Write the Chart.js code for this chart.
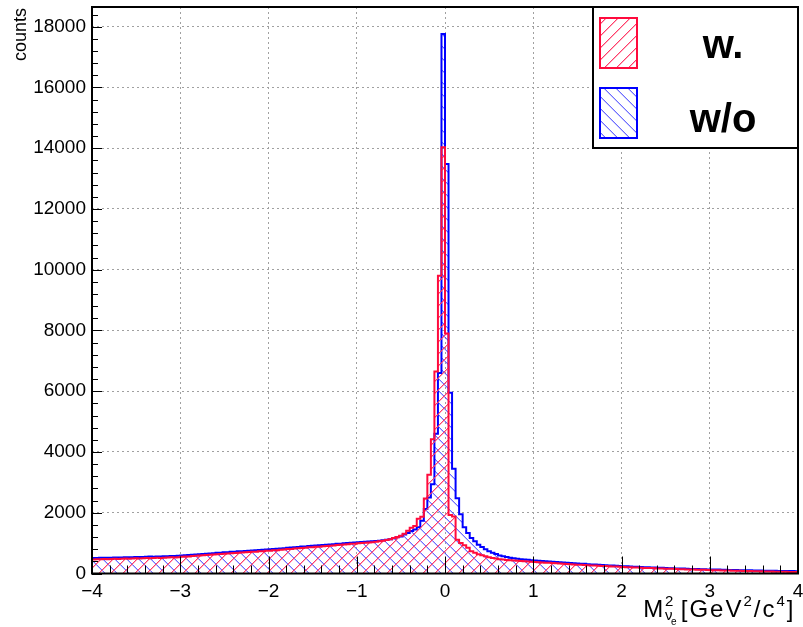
<!DOCTYPE html>
<html>
<head>
<meta charset="utf-8">
<title>Missing mass squared</title>
<script src="https://cdn.jsdelivr.net/npm/chart.js@4.4.1/dist/chart.umd.min.js"></script>
<style>
  body { margin: 0; background: #fff; }
  canvas { display: block; }
</style>
</head>
<body>
<canvas id="massChart" width="803" height="627"></canvas>
<script>
// Histogram binning (200 bins of 0.04 from -4 to 4)
const binLow = -4;
const binHigh = 4;
const binWidth = 0.04;

const labelWith = 'w.';
const labelWithout = 'w/o';

// counts per bin
const countsWith = [
  462, 470, 466, 474, 471, 478, 482, 476, 485, 490, 487, 495, 498, 494, 503, 507, 505, 512, 516, 513, 522, 526, 531, 528, 538,
  548, 557, 563, 575, 581, 590, 598, 607, 619, 626, 636, 641, 653, 658, 669, 674, 684, 689, 699, 705, 714, 720, 731, 735, 745,
  752, 764, 769, 783, 789, 803, 809, 822, 828, 842, 848, 861, 867, 878, 884, 898, 904, 917, 923, 937, 943, 957, 963, 977, 983,
  997, 1002, 1014, 1018, 1032, 1042, 1058, 1080, 1100, 1130, 1165, 1200, 1245, 1310, 1410, 1510, 1560, 1800, 1870, 2470, 3250, 4420, 6650, 9800, 14030,
  7900, 1930, 1880, 1110, 1000, 930, 850, 730, 680, 630, 600, 570, 535, 510, 490, 472, 458, 446, 436, 426, 418, 410, 402, 394, 386,
  378, 371, 366, 357, 350, 345, 334, 327, 322, 313, 305, 300, 290, 284, 280, 270, 264, 261, 252, 247, 243, 236, 230, 227, 219,
  214, 208, 206, 199, 194, 191, 185, 180, 178, 171, 167, 165, 159, 155, 153, 147, 143, 141, 135, 132, 130, 124, 121, 120, 114,
  111, 108, 106, 101, 98, 97, 92, 89, 88, 83, 80, 79, 75, 73, 72, 68, 66, 64, 61, 59, 58, 55, 52, 51, 48
];

const countsWithout = [
  508, 512, 515, 517, 521, 519, 527, 530, 528, 536, 539, 535, 544, 547, 543, 552, 556, 553, 561, 560, 568, 571, 575, 573, 584,
  594, 600, 610, 617, 627, 633, 645, 650, 662, 668, 680, 686, 697, 702, 713, 718, 729, 734, 744, 749, 760, 764, 775, 780, 790,
  797, 808, 814, 827, 834, 846, 853, 865, 872, 885, 891, 904, 910, 921, 928, 940, 946, 958, 964, 976, 982, 994, 1000, 1012, 1018,
  1030, 1036, 1045, 1050, 1062, 1072, 1082, 1095, 1110, 1130, 1160, 1190, 1220, 1280, 1330, 1400, 1450, 1520, 1740, 2120, 2500, 2940, 4600, 6600, 17760,
  13480, 5950, 3450, 2480, 1950, 1520, 1330, 1170, 1060, 950, 870, 800, 730, 680, 640, 595, 565, 540, 515, 500, 485, 472, 460, 450, 440,
  430, 420, 412, 402, 395, 387, 378, 370, 364, 355, 346, 340, 330, 322, 318, 308, 300, 296, 286, 280, 274, 266, 260, 256, 248,
  242, 236, 232, 225, 220, 216, 209, 204, 201, 194, 189, 187, 180, 176, 174, 168, 164, 162, 156, 152, 150, 145, 142, 140, 135,
  132, 129, 128, 123, 120, 119, 115, 112, 111, 108, 105, 104, 100, 98, 97, 94, 92, 91, 88, 86, 85, 83, 81, 80, 78
];

const xTickValues = [-4, -3, -2, -1, 0, 1, 2, 3, 4];
const yTickValues = [0, 2000, 4000, 6000, 8000, 10000, 12000, 14000, 16000, 18000];
const yMax = 18650;

const redLine = 'rgb(255, 10, 60)';
const blueLine = 'rgb(0, 0, 255)';

const fontFamily = "'Liberation Sans', Arial, Helvetica, sans-serif";
Chart.defaults.font.family = fontFamily;

// pixel hatch tile, "/" when slash is true, "\" otherwise
function hatch(strong, soft, slash) {
    const s = 12;
    const c = document.createElement('canvas');
    c.width = s;
    c.height = s;
    const g = c.getContext('2d');
    for (let i = 0; i < s; i++) {
        const j = slash ? s - 1 - i : i;
        g.fillStyle = strong;
        g.fillRect(i, j, 1, 1);
        g.fillStyle = soft;
        g.fillRect(i, (j + 1) % s, 1, 1);
    }
    return g.createPattern(c, 'repeat');
}

// histogram outline: one point per bin low edge, closed down to zero at both ends
function stepPoints(counts) {
    const pts = [{ x: binLow, y: 0 }];
    counts.forEach((c, i) => pts.push({ x: binLow + i * binWidth, y: c }));
    pts.push({ x: binHigh, y: counts[counts.length - 1] });
    pts.push({ x: binHigh, y: 0 });
    return pts;
}

const fillWith = hatch('rgba(255, 40, 90, 0.9)', 'rgba(255, 110, 140, 0.55)', true);
const fillWithout = hatch('rgba(60, 60, 255, 0.75)', 'rgba(120, 120, 255, 0.45)', false);

function minus(v) {
    return v < 0 ? '\u2212' + Math.abs(v) : String(v);
}

// ROOT-like frame, inward ticks, x labels, titles and legend
const rootFrame = {
    id: 'rootFrame',
    afterDraw(chart) {
        const { ctx, chartArea: a, scales: { x, y } } = chart;
        ctx.save();

        ctx.strokeStyle = '#000';
        ctx.lineWidth = 1;
        ctx.beginPath();
        for (let k = 0; k <= 40; k++) {
            const px = Math.round(x.getPixelForValue(binLow + k * 0.2)) + 0.5;
            const len = k % 5 === 0 ? 17 : 8;
            ctx.moveTo(px, a.bottom);
            ctx.lineTo(px, a.bottom - len);
        }
        for (let k = 0; k * 400 <= yMax; k++) {
            const py = Math.round(y.getPixelForValue(k * 400)) + 0.5;
            const len = k % 5 === 0 ? 10 : 6;
            ctx.moveTo(a.left, py);
            ctx.lineTo(a.left + len, py);
        }
        ctx.stroke();

        ctx.lineWidth = 2;
        ctx.strokeRect(a.left, a.top, a.right - a.left, a.bottom - a.top);

        // x tick labels
        ctx.fillStyle = '#000';
        ctx.font = '19px ' + fontFamily;
        ctx.textAlign = 'center';
        ctx.textBaseline = 'middle';
        xTickValues.forEach(v => {
            ctx.fillText(minus(v), x.getPixelForValue(v), a.bottom + 18);
        });

        // y title
        ctx.save();
        ctx.font = '18px ' + fontFamily;
        ctx.translate(26, 8);
        ctx.rotate(-Math.PI / 2);
        ctx.textAlign = 'right';
        ctx.textBaseline = 'alphabetic';
        ctx.fillText('counts', 0, 0);
        ctx.restore();

        // x title: M^2_{nu_e} [GeV^2/c^4], right aligned to the frame
        const big = '24px ' + fontFamily;
        const small = '15px ' + fontFamily;
        const tiny = '10px ' + fontFamily;
        const base = 617;
        ctx.textAlign = 'left';
        ctx.textBaseline = 'alphabetic';
        ctx.letterSpacing = '2px';
        const parts = [
            ['M', big, 0, true],
            ['2', small, -11, false],
            ['\u03bd', small, 3, true],
            [' [GeV', big, 0, true],
            ['2', small, -11, true],
            ['/c', big, 0, true],
            ['4', small, -11, true],
            [']', big, 0, true]
        ];
        let width = 0;
        parts.forEach(p => {
            ctx.font = p[1];
            if (p[3]) width += ctx.measureText(p[0]).width;
        });
        let cx = a.right - width;
        parts.forEach(p => {
            ctx.font = p[1];
            ctx.fillText(p[0], cx, base + p[2]);
            if (p[0] === '\u03bd') {
                ctx.font = tiny;
                ctx.fillText('e', cx + 6, base + 8);
            }
            if (p[3]) cx += ctx.measureText(p[0]).width;
        });
        ctx.letterSpacing = '0px';

        // legend
        const lx = 593, ly = 7, lw = 205, lh = 141;
        ctx.fillStyle = '#fff';
        ctx.fillRect(lx, ly, lw, lh);
        ctx.lineWidth = 2;
        ctx.strokeStyle = '#000';
        ctx.strokeRect(lx, ly, lw, lh);

        const entries = [
            [labelWith, fillWith, redLine, 18, 58],
            [labelWithout, fillWithout, blueLine, 88, 132]
        ];
        entries.forEach(e => {
            ctx.fillStyle = e[1];
            ctx.fillRect(600, e[3], 37, 50);
            ctx.strokeStyle = e[2];
            ctx.lineWidth = 2;
            ctx.strokeRect(600, e[3], 37, 50);
            ctx.fillStyle = '#000';
            ctx.font = 'bold 40px ' + fontFamily;
            ctx.textAlign = 'center';
            ctx.fillText(e[0], 723, e[4]);
        });

        ctx.restore();
    }
};

const ctx = document.getElementById('massChart');
new Chart(ctx, {
    type: 'line',
    data: {
        datasets: [
            {
                label: labelWith,
                data: stepPoints(countsWith),
                stepped: 'before',
                borderColor: redLine,
                borderWidth: 2,
                backgroundColor: fillWith,
                fill: 'origin',
                pointRadius: 0
            },
            {
                label: labelWithout,
                data: stepPoints(countsWithout),
                stepped: 'before',
                borderColor: blueLine,
                borderWidth: 2,
                backgroundColor: fillWithout,
                fill: 'origin',
                pointRadius: 0
            }
        ]
    },
    options: {
        responsive: false,
        animation: false,
        devicePixelRatio: 1,
        layout: { padding: { top: 7, right: 5, left: 0, bottom: 0 } },
        plugins: {
            legend: { display: false },
            tooltip: { enabled: false }
        },
        scales: {
            x: {
                type: 'linear',
                min: binLow,
                max: binHigh,
                ticks: { display: false, stepSize: 1 },
                grid: { drawTicks: false, color: '#a0a0a0', lineWidth: 1 },
                border: { display: false, dash: [2, 3] },
                afterFit: s => {
                    s.height = 53.5;
                    s.paddingLeft = 0;
                    s.paddingRight = 0;
                }
            },
            y: {
                min: 0,
                max: yMax,
                ticks: {
                    padding: 6,
                    color: '#000',
                    font: { size: 19 },
                    callback: v => String(v)
                },
                afterBuildTicks: s => { s.ticks = yTickValues.map(v => ({ value: v })); },
                grid: { drawTicks: false, color: '#a0a0a0', lineWidth: 1 },
                border: { display: false, dash: [2, 3] },
                afterFit: s => {
                    s.width = 92;
                    s.paddingTop = 0;
                    s.paddingBottom = 0;
                }
            }
        }
    },
    plugins: [rootFrame]
});
</script>
</body>
</html>
